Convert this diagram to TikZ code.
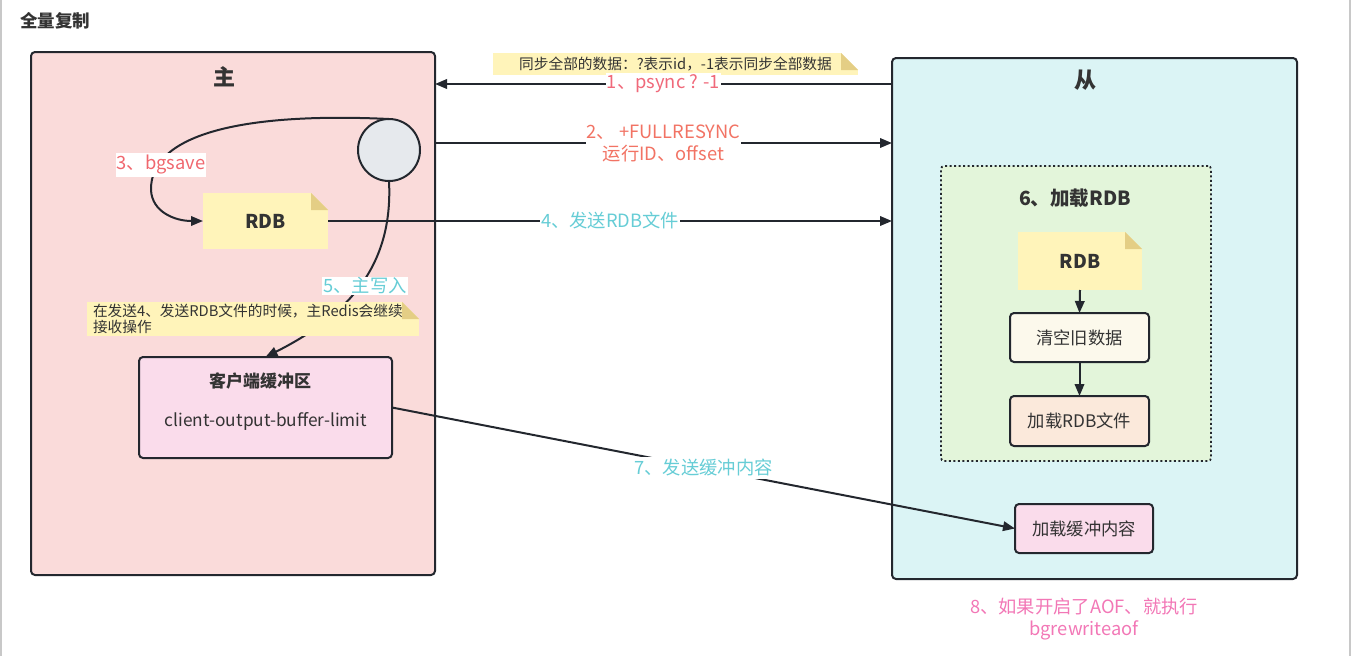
\documentclass[tikz,border=0pt]{standalone}
\usepackage{fontspec}
\setmainfont{Noto Sans CJK SC}
\usetikzlibrary{arrows.meta,calc}
\definecolor{linec}{HTML}{23272E}
\definecolor{txt}{HTML}{333333}
\definecolor{masterfill}{HTML}{FADBDA}
\definecolor{slavefill}{HTML}{DBF4F5}
\definecolor{greenfill}{HTML}{E3F5DA}
\definecolor{notefill}{HTML}{FFF4BA}
\definecolor{foldfill}{HTML}{E4CE85}
\definecolor{pinkfill}{HTML}{FADCEB}
\definecolor{creamfill}{HTML}{FCF9EC}
\definecolor{peachfill}{HTML}{FBE9DB}
\definecolor{circfill}{HTML}{E6E9ED}
\definecolor{cA}{HTML}{F0697A}
\definecolor{cB}{HTML}{F27364}
\definecolor{cC}{HTML}{F0676E}
\definecolor{cyanl}{HTML}{66CDD6}
\definecolor{pinkl}{HTML}{F277B6}
\definecolor{sidegray}{HTML}{C8C8C8}
\tikzset{
  base/.style={inner sep=0pt, outer sep=0pt},
  container/.style={base, draw=linec, line width=2pt, rounded corners=4pt},
  proc/.style={base, draw=linec, line width=2pt, rounded corners=4pt, text=txt, font=\fontsize{17.3}{20}\selectfont},
  note/.style={base, fill=notefill, text=txt,
    path picture={
      \fill[#1] (path picture bounding box.north east) -- ++(-17pt,0) -- ++(17pt,-17pt) -- cycle;
      \fill[foldfill] ($(path picture bounding box.north east)+(-17pt,0)$) -- ++(17pt,-17pt) -- ++(-17pt,0) -- cycle;
    }},
  arr/.style={draw=linec, line width=2pt, -{Triangle[length=12pt,width=9.5pt]}},
  lbl/.style={base, fill=white, inner xsep=1pt, inner ysep=2pt, font=\fontsize{18.3}{22}\selectfont, align=center},
}
\begin{document}
\begin{tikzpicture}[x=1pt,y=-1pt]
\useasboundingbox (0,0) rectangle (1351,656);
\draw[sidegray, line width=1.5pt] (0.75,0) -- (0.75,656);
\draw[sidegray, line width=1.5pt] (1350,0) -- (1350,656);

\node[base, text=txt, font=\fontsize{17.5}{20}\selectfont\bfseries] (title) at (55,21) {全量复制};

% containers
\node[container, fill=masterfill, minimum width=404pt, minimum height=523pt] (master) at (233,313.5) {};
\node[container, fill=slavefill, minimum width=405pt, minimum height=521pt] (slave) at (1094.5,318.5) {};
\node[base, text=txt, font=\fontsize{22}{24}\selectfont\bfseries] (mtitle) at (224,77) {主};
\node[base, text=txt, font=\fontsize{22}{24}\selectfont\bfseries] (stitle) at (1085,80) {从};

\node[base, fill=greenfill, draw=linec, line width=1.8pt, dash pattern=on 2pt off 2.5pt, rounded corners=3pt, minimum width=270pt, minimum height=295pt] (green) at (1076,313.5) {};
\node[base, text=txt, font=\fontsize{19.5}{22}\selectfont\bfseries] (gtitle) at (1075,198) {6、加载RDB};

% notes
\node[note=white, minimum width=365pt, minimum height=22pt, font=\fontsize{14.7}{16}\selectfont] (topnote) at (675.5,64) {同步全部的数据：?表示id，-1表示同步全部数据};

% circle
\node[base, circle, draw=linec, line width=2pt, fill=circfill, minimum size=62pt] (circ) at (389,150) {};

% RDB in master
\node[note=masterfill, minimum width=125pt, minimum height=56pt, font=\fontsize{19}{22}\selectfont\bfseries] (rdb1) at (265.5,221) {RDB};

% curve 3
\draw[arr] (circ.north) .. controls (240,112) and (150,135) .. (151,190) .. controls (152,212) and (175,221) .. (rdb1.west);
\node[lbl, text=cC] (l3) at (161,165) {3、bgsave};

% buffer box
\node[proc, fill=pinkfill, minimum width=253pt, minimum height=101pt] (buffer) at (265.5,407.5) {};
\node[base, text=txt, font=\fontsize{17}{20}\selectfont\bfseries] (buftitle) at (260,381) {客户端缓冲区};
\node[base, text=txt, font=\fontsize{17.3}{20}\selectfont] (buftext) at (266,421) {client-output-buffer-limit};

% curve 5
\draw[arr] (circ.south) .. controls (393,260) and (355,312) .. (buffer.north);

% master note
\node[note=masterfill, minimum width=332pt, minimum height=34pt, text width=322pt, align=left, font=\fontsize{14.7}{16}\selectfont] (mnote) at (253,319) {\hspace*{1pt}在发送4、发送RDB文件的时候，主Redis会继续\\\hspace*{1pt}接收操作};
\node[lbl, text=cyanl, inner ysep=1pt] (l5) at (365,286) {5、主写入};

% slave inner boxes
\node[note=greenfill, minimum width=124pt, minimum height=58pt, font=\fontsize{19}{22}\selectfont\bfseries] (rdb2) at (1080,261) {RDB};
\node[proc, fill=creamfill, minimum width=139pt, minimum height=49pt] (clear) at (1079.5,337.5) {清空旧数据};
\node[proc, fill=peachfill, minimum width=139pt, minimum height=50pt] (loadrdb) at (1079.5,421) {加载RDB文件};
\node[proc, fill=pinkfill, minimum width=138pt, minimum height=49pt] (loadbuf) at (1084,528.5) {加载缓冲内容};
\draw[arr] (rdb2.south) -- (clear.north);
\draw[arr] (clear.south) -- (loadrdb.north);

% horizontal arrows
\coordinate (y1) at (0,84);
\coordinate (y2) at (0,143);
\draw[arr] (slave.west |- y1) -- node[lbl, text=cA] (l1) {1、psync ? -1} (master.east |- y1);
\draw[arr] (master.east |- y2) -- node[lbl, text=cB] (l2) {2、 +FULLRESYNC\\运行ID、offset} (slave.west |- y2);
\draw[arr] (rdb1.east) -- node[lbl, text=cyanl, pos=0.5] (l4) {4、发送RDB文件} (slave.west |- rdb1.east);
\draw[arr] (buffer.east) -- node[lbl, text=cyanl, pos=0.5] (l7) {7、发送缓冲内容} (loadbuf.west);

\node[base, text=pinkl, align=center, font=\fontsize{18.3}{22}\selectfont] (l8) at (1084,619) {8、如果开启了AOF、就执行\\bgrewriteaof};
\end{tikzpicture}
\end{document}
